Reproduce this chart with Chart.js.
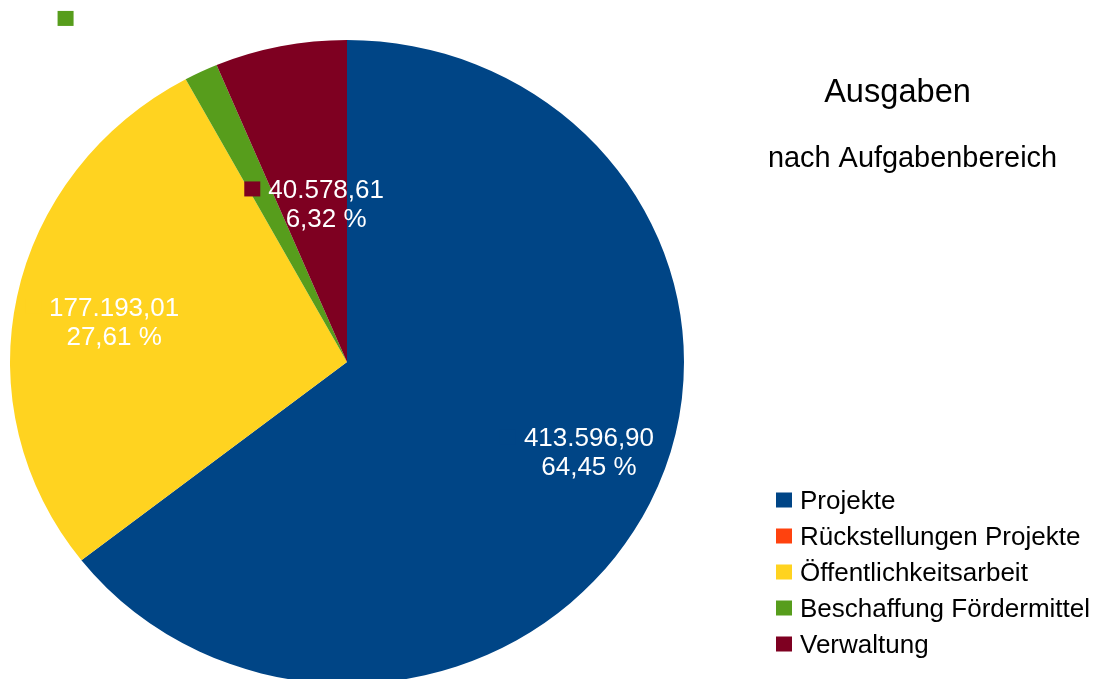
<!DOCTYPE html>
<html lang="de">
<head>
<meta charset="UTF-8">
<title>Ausgaben nach Aufgabenbereich</title>
<script src="https://cdn.jsdelivr.net/npm/chart.js"></script>
<style>
    html, body { margin: 0; padding: 0; background: #fff; overflow: hidden; }
    canvas { display: block; }
</style>
</head>
<body>
<canvas id="pie" width="1094" height="720"></canvas>
<script>
// data
const categories = ['Projekte', 'Rückstellungen Projekte', 'Öffentlichkeitsarbeit', 'Beschaffung Fördermittel', 'Verwaltung'];
const amounts = [413596.90, 0, 177193.01, 10400.00, 40578.61];
const sliceColors = ['#004586', '#ff420e', '#ffd320', '#579d1c', '#7e0021'];
const titleText = 'Ausgaben';
const subtitleText = 'nach Aufgabenbereich';

// where LibreOffice put the value labels, as fraction of the radius from the centre
const labelOffsets = [[0.718, 0.266], null, [-0.691, -0.121], [-0.616, -0.975], [-0.062, -0.469]];
const labelTextColors = ['#ffffff', '#ffffff', '#ffffff', '#ffffff', '#ffffff'];

const FONT = '"Liberation Sans", Arial, sans-serif';
const squash = 322 / 337; // the original pie is a bit flattened

function fmt(n) {
    const parts = n.toFixed(2).split('.');
    const intPart = parts[0].replace(/\B(?=(\d{3})+(?!\d))/g, '.');
    return intPart + ',' + parts[1];
}

const total = amounts.reduce((a, b) => a + b, 0);

const squashPlugin = {
    id: 'squash',
    beforeDatasetsDraw(chart) {
        const arc = chart.getDatasetMeta(0).data[0];
        const ctx = chart.ctx;
        ctx.save();
        ctx.translate(0, arc.y);
        ctx.scale(1, squash);
        ctx.translate(0, -arc.y);
    },
    afterDatasetsDraw(chart) {
        chart.ctx.restore();
    }
};

const decorPlugin = {
    id: 'decor',
    afterDraw(chart) {
        const ctx = chart.ctx;
        const meta = chart.getDatasetMeta(0);
        const arc0 = meta.data[0];
        const cx = arc0.x, cy = arc0.y, r = arc0.outerRadius;

        // value labels
        ctx.save();
        ctx.font = '26px ' + FONT;
        ctx.textBaseline = 'alphabetic';
        amounts.forEach((v, i) => {
            const off = labelOffsets[i];
            if (!off || v <= 0) return;
            const lines = [fmt(v), fmt(v / total * 100) + ' %'];
            const bx = cx + off[0] * r;
            const by = cy + off[1] * r;
            const lh = 29;
            const w = Math.max(...lines.map(t => ctx.measureText(t).width));
            const left = bx - w / 2;
            // legend key in front of the label
            ctx.fillStyle = sliceColors[i];
            ctx.fillRect(left - 8 - 16, by - lh / 2 - 8, 16, 15);
            ctx.fillStyle = labelTextColors[i];
            ctx.textAlign = 'center';
            lines.forEach((t, j) => {
                ctx.fillText(t, bx, by - lh / 2 + 9 + j * lh);
            });
        });
        ctx.restore();

        // title + subtitle
        ctx.save();
        ctx.fillStyle = '#000';
        ctx.textAlign = 'center';
        ctx.textBaseline = 'alphabetic';
        ctx.font = '32.6px ' + FONT;
        ctx.fillText(titleText, 897.5, 101.5);
        ctx.font = '28.9px ' + FONT;
        ctx.fillText(subtitleText, 912.5, 167);
        ctx.restore();

        // legend
        ctx.save();
        ctx.font = '26px ' + FONT;
        ctx.textAlign = 'left';
        ctx.textBaseline = 'alphabetic';
        categories.forEach((c, i) => {
            const y = 500 + i * 36;
            ctx.fillStyle = sliceColors[i];
            ctx.fillRect(776, y - 7.5, 16, 15);
            ctx.fillStyle = '#000';
            ctx.fillText(c, 800, y + 9.3);
        });
        ctx.restore();
    }
};

new Chart(document.getElementById('pie'), {
    type: 'pie',
    data: {
        labels: categories,
        datasets: [{
            data: amounts,
            backgroundColor: sliceColors,
            borderWidth: 0
        }]
    },
    options: {
        responsive: false,
        animation: false,
        events: [],
        layout: { padding: { left: 10, right: 410, top: 25, bottom: 21 } },
        plugins: {
            legend: { display: false },
            title: { display: false },
            tooltip: { enabled: false }
        }
    },
    plugins: [squashPlugin, decorPlugin]
});
</script>
</body>
</html>
